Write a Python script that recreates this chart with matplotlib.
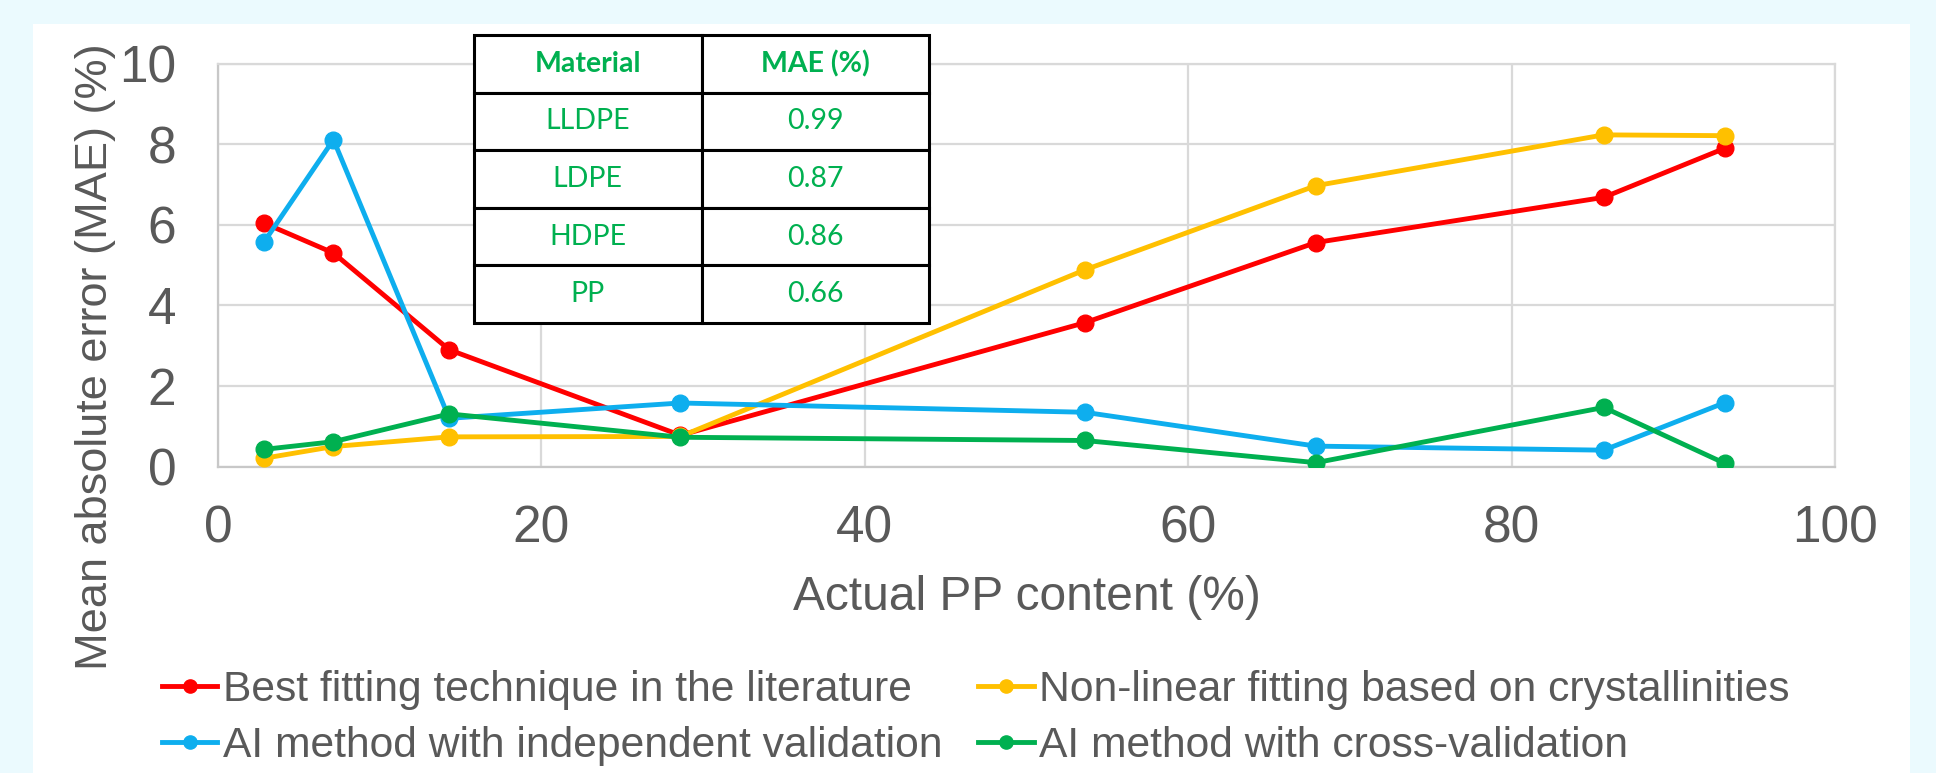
import matplotlib.pyplot as plt
from matplotlib.patches import Rectangle

# data
pp_content = [2.86, 7.14, 14.3, 28.6, 53.6, 67.9, 85.7, 93.2]
best_fit_lit = [6.04, 5.30, 2.90, 0.78, 3.57, 5.56, 6.68, 7.90]
nonlinear_fit = [0.21, 0.50, 0.74, 0.75, 4.88, 6.97, 8.23, 8.21]
ai_independent = [5.58, 8.11, 1.20, 1.58, 1.35, 0.51, 0.41, 1.59]
ai_cross = [0.43, 0.62, 1.31, 0.73, 0.65, 0.10, 1.47, 0.08]

series_labels = ['Best fitting technique in the literature',
                 'Non-linear fitting based on crystallinities',
                 'AI method with independent validation',
                 'AI method with cross-validation']
series_colors = ['#FF0000', '#FFC000', '#0EAEEE', '#00B050']

materials = ['LLDPE', 'LDPE', 'HDPE', 'PP']
material_mae = ['0.99', '0.87', '0.86', '0.66']

W, H = 1936, 773
text_grey = '#595959'
grid_grey = '#D9D9D9'

plt.rcParams['font.family'] = ['Liberation Sans', 'DejaVu Sans']

fig = plt.figure(figsize=(W / 100, H / 100), dpi=100, facecolor='#EBFAFE')
# white chart panel, kept behind everything
fig.patches.append(Rectangle((33 / W, 0), (1910 - 33) / W, (H - 24) / H,
                             transform=fig.transFigure, facecolor='white',
                             edgecolor='none', zorder=-10))

ax = fig.add_axes([218 / W, (H - 466.7) / H, (1835 - 218) / W, (466.7 - 63.5) / H])
ax.set_facecolor('white')

all_series = [best_fit_lit, nonlinear_fit, ai_independent, ai_cross]
for vals, lab, col in zip(all_series, series_labels, series_colors):
    ax.plot(pp_content, vals, color=col, lw=3.5, marker='o', ms=12,
            label=lab, solid_capstyle='round', zorder=3)

ax.set_xlim(0, 100)
ax.set_ylim(0, 10)
ax.set_xticks(range(0, 101, 20))
ax.set_yticks(range(0, 11, 2))
ax.grid(True, color=grid_grey, lw=1.6)
ax.set_axisbelow(True)
for sp in ax.spines.values():
    sp.set_color(grid_grey)
    sp.set_linewidth(1.6)
ax.spines['bottom'].set_color('#C8C8C8')
ax.spines['left'].set_color('#C8C8C8')
ax.tick_params(length=0, labelsize=37, labelcolor=text_grey)
ax.tick_params(axis='y', pad=30)
ax.tick_params(axis='x', pad=27)

ax.set_xlabel('Actual PP content (%)', fontsize=34.5, color=text_grey)
ax.xaxis.label.set_va('center')
ax.xaxis.set_label_coords(0.5, ((H - 597) / H - (H - 466.7) / H) / ((466.7 - 63.5) / H))
ax.set_ylabel('Mean absolute error (MAE) (%)', fontsize=32.5, color=text_grey)
ax.yaxis.label.set_va('center')
ax.yaxis.set_label_coords((95 - 218) / (1835 - 218),
                          ((H - 357) / H - (H - 466.7) / H) / ((466.7 - 63.5) / H))

# legend filled row by row like the original: red, yellow / blue, green
order = [0, 2, 1, 3]
leg_lines = []
for i in order:
    h, = ax.plot([], [], color=series_colors[i], lw=3.5, marker='o', ms=9.5)
    leg_lines.append(h)
fig.legend(leg_lines, [series_labels[i] for i in order], loc='center left', ncol=2,
           bbox_to_anchor=(162 / W, (H - 718) / H), frameon=False,
           fontsize=30.7, labelcolor=text_grey, borderpad=0, borderaxespad=0,
           handlelength=1.3, handletextpad=0.12, columnspacing=0.85,
           labelspacing=0.38)

# inset table with the per-material MAE
tab_ax = fig.add_axes([474 / W, (H - 323) / H, (929 - 474) / W, (323 - 35) / H])
tab_ax.axis('off')
cells = [[m, v] for m, v in zip(materials, material_mae)]
tab = tab_ax.table(cellText=cells, colLabels=['Material', 'MAE (%)'],
                   cellLoc='center', bbox=[0, 0, 1, 1])
tab.auto_set_font_size(False)
for (r, c), cell in tab.get_celld().items():
    cell.set_edgecolor('black')
    cell.set_linewidth(2.2)
    cell.set_facecolor('white')
    txt = cell.get_text()
    txt.set_color('#00B050')
    txt.set_fontfamily(['Lato', 'DejaVu Sans'])
    txt.set_fontsize(20.5)
    if r == 0:
        txt.set_fontweight('bold')

fig.savefig('out.png', dpi=100, facecolor=fig.get_facecolor())
